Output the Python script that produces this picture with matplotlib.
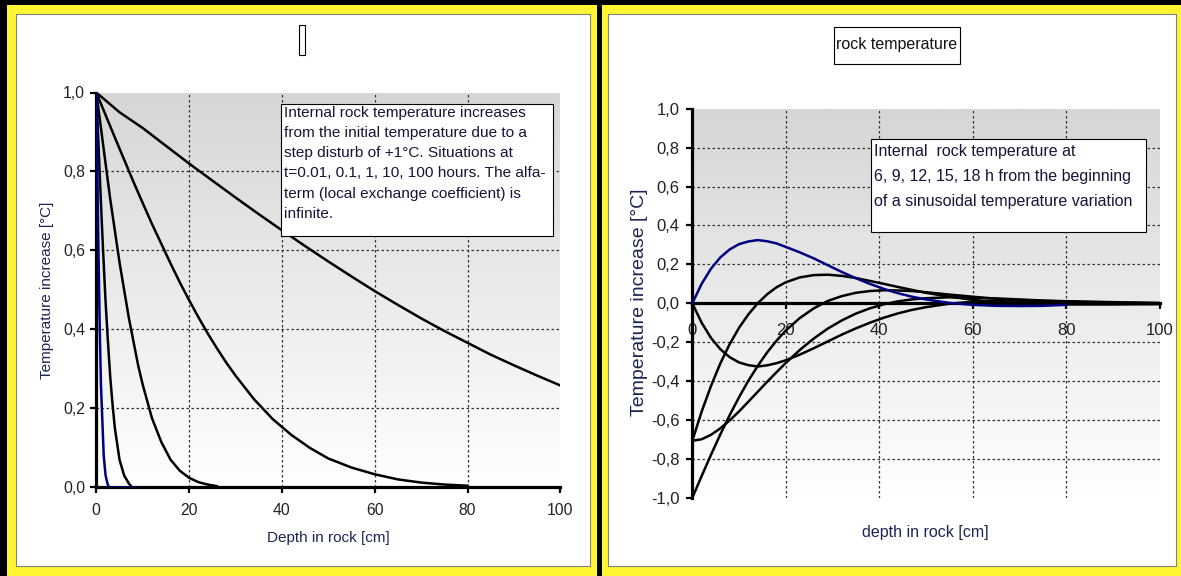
import matplotlib
matplotlib.use("Agg")
import numpy as np
import matplotlib.pyplot as plt
from matplotlib.patches import Rectangle
from matplotlib.colors import LinearSegmentedColormap

plt.rcParams['font.family'] = ['Liberation Sans', 'DejaVu Sans']

# ---------------- data: left chart (step disturbance) ----------------
depth_001 = [0, 0.2, 0.4, 0.6, 0.8, 1.0, 1.3, 1.6, 2.0, 2.4, 2.7, 8]
temp_001 = [1.0, 0.82, 0.65, 0.50, 0.37, 0.26, 0.17, 0.08, 0.03, 0.01, 0.0, 0.0]

depth_01 = [0, 0.5, 1, 1.5, 2, 2.5, 3, 3.5, 4, 4.5, 5, 5.5, 6, 7, 7.7]
temp_01 = [1.0, 0.86, 0.72, 0.59, 0.47, 0.37, 0.28, 0.21, 0.15, 0.11, 0.07, 0.05, 0.03, 0.01, 0.0]

depth_1 = [0, 1, 2, 3, 4, 5, 6, 7, 8, 9, 10, 12, 14, 16, 18, 20, 22, 24, 26]
temp_1 = [1.0, 0.91, 0.82, 0.73, 0.65, 0.57, 0.50, 0.43, 0.37, 0.31, 0.26,
          0.175, 0.115, 0.07, 0.042, 0.024, 0.013, 0.007, 0.003]

depth_10 = [0, 2, 4, 6, 8, 10, 12, 14, 16, 18, 20, 22, 24, 26, 28, 30, 34, 38,
            42, 46, 50, 55, 60, 65, 70, 75, 80]
temp_10 = [1.0, 0.943, 0.886, 0.83, 0.774, 0.72, 0.667, 0.617, 0.567, 0.519,
           0.474, 0.431, 0.39, 0.352, 0.316, 0.283, 0.223, 0.173, 0.133, 0.10,
           0.073, 0.05, 0.033, 0.02, 0.012, 0.007, 0.004]

depth_100 = [0, 5, 10, 15, 20, 25, 30, 35, 40, 45, 50, 55, 60, 65, 70, 75, 80,
             85, 90, 95, 100]
temp_100 = [1.0, 0.95, 0.91, 0.865, 0.82, 0.777, 0.734, 0.692, 0.651, 0.611,
            0.572, 0.534, 0.497, 0.462, 0.428, 0.396, 0.366, 0.336, 0.309,
            0.283, 0.258]

# ---------------- data: right chart (sinusoidal variation) ----------------
depth_r = [0, 2, 4, 6, 8, 10, 12, 14, 16, 18, 20, 23, 26, 29, 32, 35, 38, 41,
           44, 47, 50, 55, 60, 65, 70, 75, 80, 90, 100]
temp_6h = [0, 0.100, 0.178, 0.236, 0.277, 0.304, 0.318, 0.325, 0.319, 0.308,
           0.290, 0.262, 0.231, 0.196, 0.161, 0.129, 0.100, 0.074, 0.052,
           0.034, 0.020, 0.002, -0.008, -0.013, -0.014, -0.013, -0.008]
temp_9h = [-0.707, -0.557, -0.425, -0.309, -0.210, -0.126, -0.057, 0.0, 0.046,
           0.082, 0.108, 0.133, 0.145, 0.147, 0.141, 0.130, 0.115, 0.100,
           0.084, 0.069, 0.054, 0.034, 0.018, 0.007, 0.0, -0.004, -0.006,
           -0.006, -0.004]
temp_12h = [-1.0, -0.888, -0.779, -0.674, -0.575, -0.483, -0.398, -0.322,
            -0.253, -0.193, -0.140, -0.076, -0.026, 0.012, 0.037, 0.054, 0.063,
            0.067, 0.066, 0.063, 0.057, 0.045, 0.034, 0.023, 0.014, 0.007,
            0.002, -0.002, -0.003]
temp_15h = [-0.707, -0.699, -0.676, -0.643, -0.602, -0.556, -0.506, -0.455,
            -0.404, -0.355, -0.307, -0.240, -0.181, -0.130, -0.088, -0.053,
            -0.026, -0.005, 0.010, 0.020, 0.026, 0.031, 0.029, 0.025, 0.020,
            0.014, 0.009, 0.003, 0.0]
temp_18h = [0, -0.100, -0.178, -0.236, -0.277, -0.304, -0.318, -0.325, -0.319,
            -0.308, -0.293, -0.264, -0.231, -0.196, -0.161, -0.129, -0.100,
            -0.074, -0.052, -0.034, -0.020, -0.002, 0.008, 0.013, 0.014, 0.013,
            0.011, 0.006, 0.002]

xticks = [0, 20, 40, 60, 80, 100]
xtick_labels = ['0', '20', '40', '60', '80', '100']
yticks_l = [0, 0.2, 0.4, 0.6, 0.8, 1.0]
ytick_labels_l = ['0,0', '0,2', '0,4', '0,6', '0,8', '1,0']
yticks_r = [-1.0, -0.8, -0.6, -0.4, -0.2, 0, 0.2, 0.4, 0.6, 0.8, 1.0]
ytick_labels_r = ['-1,0', '-0,8', '-0,6', '-0,4', '-0,2', '0,0', '0,2', '0,4',
                  '0,6', '0,8', '1,0']
grid_x = [20, 40, 60, 80]
grid_y_l = [0.2, 0.4, 0.6, 0.8]
grid_y_r = [-0.8, -0.6, -0.4, -0.2, 0.2, 0.4, 0.6, 0.8]

note_left = ("Internal rock temperature increases\n"
             "from the initial temperature due to a\n"
             "step disturb of +1°C. Situations at\n"
             "t=0.01, 0.1, 1, 10, 100 hours. The alfa-\n"
             "term (local exchange coefficient) is\n"
             "infinite.")
note_right = ("Internal  rock temperature at\n"
              "6, 9, 12, 15, 18 h from the beginning\n"
              "of a sinusoidal temperature variation")

# ---------------- figure ----------------
W, H = 1181, 576
YELLOW = '#FFF533'
NAVY = '#000080'
LABEL = '#1C2454'
TICK = '#222222'


def fx(px):
    return px / W


def fy(py):
    return 1 - py / H


fig = plt.figure(figsize=(W / 100, H / 100), dpi=100, facecolor='black')


def box(x0, y0, x1, y1, face, edge='none', lw=0.0, z=-5):
    fig.add_artist(Rectangle((fx(x0), fy(y1)), fx(x1) - fx(x0), fy(y0) - fy(y1),
                             transform=fig.transFigure, facecolor=face,
                             edgecolor=edge, linewidth=lw, zorder=z))


# yellow panels with white insides
box(7, 5, 597, 576, YELLOW)
box(16, 14, 590, 566, 'white', '#808080', 0.8, z=-4)
box(602, 5, 1181, 576, YELLOW)
box(608, 14, 1176, 566, 'white', '#808080', 0.8, z=-4)

gray_cmap = LinearSegmentedColormap.from_list('shade', ['#D6D6D6', '#FFFFFF'])
gradient = np.linspace(0, 1, 256).reshape(-1, 1)


def style_axes(ax, ylo, yhi, yticks, ylabels, grid_y, fs, xpad, ypad):
    ax.imshow(gradient, cmap=gray_cmap, extent=[0, 100, ylo, yhi],
              aspect='auto', origin='upper', zorder=0)
    ax.set_xlim(0, 100)
    ax.set_ylim(ylo, yhi)
    ax.set_facecolor('none')
    for v in grid_x:
        ax.axvline(v, color='#333333', lw=0.9, ls=(0, (2, 2)), zorder=1)
    for v in grid_y:
        ax.axhline(v, color='#333333', lw=0.9, ls=(0, (2, 2)), zorder=1)
    ax.set_xticks(xticks, labels=xtick_labels)
    ax.set_yticks(yticks, labels=ylabels)
    for s in ['top', 'right']:
        ax.spines[s].set_visible(False)
    for s in ['left', 'bottom']:
        ax.spines[s].set_linewidth(2.3)
        ax.spines[s].set_color('black')
    ax.tick_params(axis='both', direction='out', length=4, width=1.6,
                   color='black', labelcolor=TICK, labelsize=fs)
    ax.tick_params(axis='x', pad=xpad)
    ax.tick_params(axis='y', pad=ypad)


# ---- left chart ----
ax1 = fig.add_axes([fx(96.3), fy(487.3), (560.3 - 96.3) / W, (487.3 - 92.5) / H])
style_axes(ax1, 0, 1.0, yticks_l, ytick_labels_l, grid_y_l, 11.3, 7, 4)
ax1.plot(depth_100, temp_100, color='black', lw=1.8, zorder=3)
ax1.plot(depth_10, temp_10, color='black', lw=1.8, zorder=3)
ax1.plot(depth_1, temp_1, color='black', lw=1.8, zorder=3)
ax1.plot(depth_01, temp_01, color='black', lw=1.8, zorder=3)
ax1.plot(depth_001, temp_001, color=NAVY, lw=1.8, zorder=3)

fig.text(fx(47), fy(290), 'Temperature increase [°C]', rotation=90,
         ha='center', va='center', fontsize=11, color=LABEL)
fig.text(fx(328), fy(538), 'Depth in rock [cm]', ha='center', va='center',
         fontsize=11, color=LABEL)
# missing-glyph title box
box(299, 25, 305, 55, 'white', 'black', 0.8, z=5)
# note
box(281, 104, 553, 236, 'white', 'black', 0.8, z=5)
fig.text(fx(284), fy(106), note_left, ha='left', va='top', fontsize=11.1,
         color='#15153A', linespacing=1.56, zorder=6)

# ---- right chart ----
ax2 = fig.add_axes([fx(692.3), fy(497.8), (1159.5 - 692.3) / W, (497.8 - 108.8) / H])
style_axes(ax2, -1.0, 1.0, yticks_r, ytick_labels_r, grid_y_r, 12, 10, 5)
ax2.spines['bottom'].set_position(('data', 0))
ax2.plot(depth_r, temp_9h, color='black', lw=1.8, zorder=3)
ax2.plot(depth_r, temp_12h, color='black', lw=1.8, zorder=3)
ax2.plot(depth_r, temp_15h, color='black', lw=1.8, zorder=3)
ax2.plot(depth_r, temp_18h, color='black', lw=1.8, zorder=3)
ax2.plot(depth_r[:len(temp_6h)], temp_6h, color=NAVY, lw=1.8, zorder=3)

fig.text(fx(639), fy(302), 'Temperature increase [°C]', rotation=90,
         ha='center', va='center', fontsize=14, color=LABEL)
fig.text(fx(925), fy(532), 'depth in rock [cm]', ha='center', va='center',
         fontsize=11.5, color=LABEL)
box(834, 27, 960, 64, 'white', 'black', 0.8, z=5)
fig.text(fx(897), fy(45), 'rock temperature', ha='center', va='center',
         fontsize=11.5, color='#111111', zorder=6)
box(871, 139, 1146, 232, 'white', 'black', 0.8, z=5)
fig.text(fx(873.5), fy(144), note_right, ha='left', va='top', fontsize=11.5,
         color='#15153A', linespacing=1.85, zorder=6)

fig.savefig('out.png', dpi=100, facecolor='black')
